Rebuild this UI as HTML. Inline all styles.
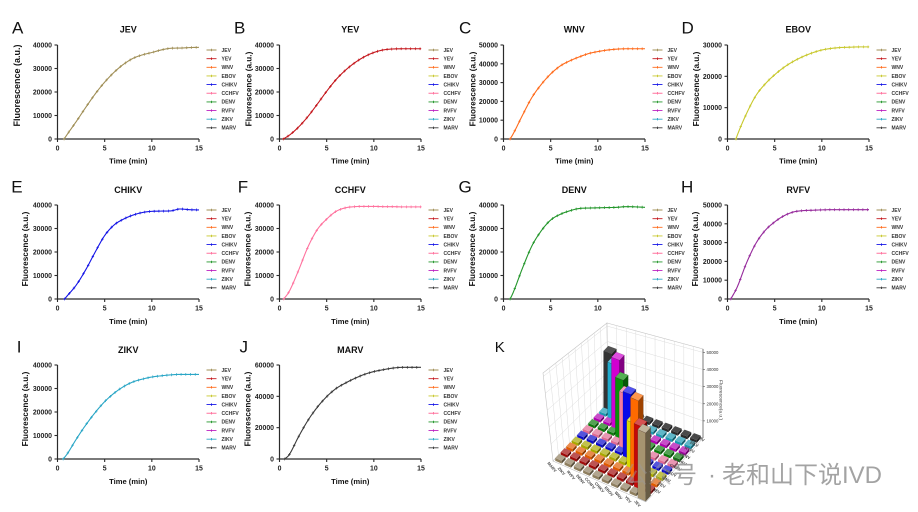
<!DOCTYPE html>
<html><head><meta charset="utf-8">
<style>
html,body{margin:0;padding:0;background:#fff;}
svg{display:block;}
text{font-family:"Liberation Sans",Arial,sans-serif;}
.tk{font-weight:bold;font-size:6.9px;fill:#222;text-anchor:end;}
.tx{font-weight:bold;font-size:6.9px;fill:#222;text-anchor:middle;}
.ti{font-weight:bold;font-size:9px;fill:#111;text-anchor:middle;}
.ax{font-weight:bold;font-size:7.6px;fill:#111;text-anchor:middle;}
.yt{font-weight:bold;font-size:8.2px;fill:#111;text-anchor:middle;}
.lg text{font-weight:bold;font-size:5px;fill:#333;}
.lt{font-size:17px;fill:#111;}
.kl{font-weight:bold;font-size:4px;fill:#444;text-anchor:middle;}
.kt{font-size:4.3px;fill:#333;}
.wm{font-family:"Liberation Sans","Noto Sans CJK SC",sans-serif;font-size:24px;fill:#9a9a9a;}
</style></head><body>
<svg id="s" width="918" height="512" viewBox="0 0 918 512" xmlns="http://www.w3.org/2000/svg">
<rect width="918" height="512" fill="#fff"/>

<!-- Letters -->
<text class="lt" x="12" y="33.3">A</text>
<text class="lt" x="234" y="33.3">B</text>
<text class="lt" x="459" y="33.3">C</text>
<text class="lt" x="681.5" y="33.3">D</text>
<text class="lt" x="11.2" y="192.5">E</text>
<text class="lt" x="237.8" y="192.5">F</text>
<text class="lt" x="458.5" y="192.5">G</text>
<text class="lt" x="681" y="192.5">H</text>
<text class="lt" x="16.8" y="352.3">I</text>
<text class="lt" x="239.5" y="352.3">J</text>
<text class="lt" x="494.8" y="352" style="font-size:15px">K</text>

<!-- Panel A -->
<g id="pA" transform="translate(57.5,45)">
<text class="ti" x="70.75" y="-12.3">JEV</text>
<text class="tk" x="-5.5" y="96.5">0</text><text class="tk" x="-5.5" y="73">10000</text><text class="tk" x="-5.5" y="49.5">20000</text><text class="tk" x="-5.5" y="26">30000</text><text class="tk" x="-5.5" y="2.5">40000</text>
<text class="tx" x="0" y="105.5">0</text><text class="tx" x="47.17" y="105.5">5</text><text class="tx" x="94.33" y="105.5">10</text><text class="tx" x="141.5" y="105.5">15</text>
<text class="ax" x="70.75" y="118.5">Time (min)</text>
<text class="yt" style="font-size:9px" transform="translate(-37.5,40.5) rotate(-90)">Fluorescence (a.u.)</text>
<g class="lg"><text x="164" y="6.8">JEV</text><text x="164" y="15.45">YEV</text><text x="164" y="24.1">WNV</text><text x="164" y="32.75">EBOV</text><text x="164" y="41.4">CHIKV</text><text x="164" y="50.05">CCHFV</text><text x="164" y="58.7">DENV</text><text x="164" y="67.35">RVFV</text><text x="164" y="76">ZIKV</text><text x="164" y="84.65">MARV</text></g>
</g>

<!-- Panel B -->
<g id="pB" transform="translate(279.5,45)">
<text class="ti" x="70.75" y="-12.3">YEV</text>
<text class="tk" x="-5.5" y="96.5">0</text><text class="tk" x="-5.5" y="73">10000</text><text class="tk" x="-5.5" y="49.5">20000</text><text class="tk" x="-5.5" y="26">30000</text><text class="tk" x="-5.5" y="2.5">40000</text>
<text class="tx" x="0" y="105.5">0</text><text class="tx" x="47.17" y="105.5">5</text><text class="tx" x="94.33" y="105.5">10</text><text class="tx" x="141.5" y="105.5">15</text>
<text class="ax" x="70.75" y="118.5">Time (min)</text>
<text class="yt" transform="translate(-28,44) rotate(-90)">Fluorescence (a.u.)</text>
<g class="lg"><text x="164" y="6.8">JEV</text><text x="164" y="15.45">YEV</text><text x="164" y="24.1">WNV</text><text x="164" y="32.75">EBOV</text><text x="164" y="41.4">CHIKV</text><text x="164" y="50.05">CCHFV</text><text x="164" y="58.7">DENV</text><text x="164" y="67.35">RVFV</text><text x="164" y="76">ZIKV</text><text x="164" y="84.65">MARV</text></g>
</g>

<!-- Panel C -->
<g id="pC" transform="translate(503.5,45)">
<text class="ti" x="70.75" y="-12.3">WNV</text>
<text class="tk" x="-5.5" y="96.5">0</text><text class="tk" x="-5.5" y="77.7">10000</text><text class="tk" x="-5.5" y="58.9">20000</text><text class="tk" x="-5.5" y="40.1">30000</text><text class="tk" x="-5.5" y="21.3">40000</text><text class="tk" x="-5.5" y="2.5">50000</text>
<text class="tx" x="0" y="105.5">0</text><text class="tx" x="47.17" y="105.5">5</text><text class="tx" x="94.33" y="105.5">10</text><text class="tx" x="141.5" y="105.5">15</text>
<text class="ax" x="70.75" y="118.5">Time (min)</text>
<text class="yt" transform="translate(-28,44) rotate(-90)">Fluorescence (a.u.)</text>
<g class="lg"><text x="164" y="6.8">JEV</text><text x="164" y="15.45">YEV</text><text x="164" y="24.1">WNV</text><text x="164" y="32.75">EBOV</text><text x="164" y="41.4">CHIKV</text><text x="164" y="50.05">CCHFV</text><text x="164" y="58.7">DENV</text><text x="164" y="67.35">RVFV</text><text x="164" y="76">ZIKV</text><text x="164" y="84.65">MARV</text></g>
</g>

<!-- Panel D -->
<g id="pD" transform="translate(727.5,45)">
<text class="ti" x="70.75" y="-12.3">EBOV</text>
<text class="tk" x="-5.5" y="96.5">0</text><text class="tk" x="-5.5" y="65.17">10000</text><text class="tk" x="-5.5" y="33.83">20000</text><text class="tk" x="-5.5" y="2.5">30000</text>
<text class="tx" x="0" y="105.5">0</text><text class="tx" x="47.17" y="105.5">5</text><text class="tx" x="94.33" y="105.5">10</text><text class="tx" x="141.5" y="105.5">15</text>
<text class="ax" x="70.75" y="118.5">Time (min)</text>
<text class="yt" transform="translate(-28.5,44) rotate(-90)">Fluorescence (a.u.)</text>
<g class="lg"><text x="164" y="6.8">JEV</text><text x="164" y="15.45">YEV</text><text x="164" y="24.1">WNV</text><text x="164" y="32.75">EBOV</text><text x="164" y="41.4">CHIKV</text><text x="164" y="50.05">CCHFV</text><text x="164" y="58.7">DENV</text><text x="164" y="67.35">RVFV</text><text x="164" y="76">ZIKV</text><text x="164" y="84.65">MARV</text></g>
</g>

<!-- Panel E -->
<g id="pE" transform="translate(57.5,205)">
<text class="ti" x="70.75" y="-12">CHIKV</text>
<text class="tk" x="-5.5" y="96.5">0</text><text class="tk" x="-5.5" y="73">10000</text><text class="tk" x="-5.5" y="49.5">20000</text><text class="tk" x="-5.5" y="26">30000</text><text class="tk" x="-5.5" y="2.5">40000</text>
<text class="tx" x="0" y="105.5">0</text><text class="tx" x="47.17" y="105.5">5</text><text class="tx" x="94.33" y="105.5">10</text><text class="tx" x="141.5" y="105.5">15</text>
<text class="ax" x="70.75" y="118.8">Time (min)</text>
<text class="yt" transform="translate(-29.5,44) rotate(-90)">Fluorescence (a.u.)</text>
<g class="lg"><text x="164" y="6.8">JEV</text><text x="164" y="15.45">YEV</text><text x="164" y="24.1">WNV</text><text x="164" y="32.75">EBOV</text><text x="164" y="41.4">CHIKV</text><text x="164" y="50.05">CCHFV</text><text x="164" y="58.7">DENV</text><text x="164" y="67.35">RVFV</text><text x="164" y="76">ZIKV</text><text x="164" y="84.65">MARV</text></g>
</g>

<!-- Panel F -->
<g id="pF" transform="translate(279.5,205)">
<text class="ti" x="70.75" y="-12">CCHFV</text>
<text class="tk" x="-5.5" y="96.5">0</text><text class="tk" x="-5.5" y="73">10000</text><text class="tk" x="-5.5" y="49.5">20000</text><text class="tk" x="-5.5" y="26">30000</text><text class="tk" x="-5.5" y="2.5">40000</text>
<text class="tx" x="0" y="105.5">0</text><text class="tx" x="47.17" y="105.5">5</text><text class="tx" x="94.33" y="105.5">10</text><text class="tx" x="141.5" y="105.5">15</text>
<text class="ax" x="70.75" y="118.8">Time (min)</text>
<text class="yt" transform="translate(-29,44) rotate(-90)">Fluorescence (a.u.)</text>
<g class="lg"><text x="164" y="6.8">JEV</text><text x="164" y="15.45">YEV</text><text x="164" y="24.1">WNV</text><text x="164" y="32.75">EBOV</text><text x="164" y="41.4">CHIKV</text><text x="164" y="50.05">CCHFV</text><text x="164" y="58.7">DENV</text><text x="164" y="67.35">RVFV</text><text x="164" y="76">ZIKV</text><text x="164" y="84.65">MARV</text></g>
</g>

<!-- Panel G -->
<g id="pG" transform="translate(503.5,205)">
<text class="ti" x="70.75" y="-12">DENV</text>
<text class="tk" x="-5.5" y="96.5">0</text><text class="tk" x="-5.5" y="73">10000</text><text class="tk" x="-5.5" y="49.5">20000</text><text class="tk" x="-5.5" y="26">30000</text><text class="tk" x="-5.5" y="2.5">40000</text>
<text class="tx" x="0" y="105.5">0</text><text class="tx" x="47.17" y="105.5">5</text><text class="tx" x="94.33" y="105.5">10</text><text class="tx" x="141.5" y="105.5">15</text>
<text class="yt" transform="translate(-28.5,44) rotate(-90)">Fluorescence (a.u.)</text>
<g class="lg"><text x="164" y="6.8">JEV</text><text x="164" y="15.45">YEV</text><text x="164" y="24.1">WNV</text><text x="164" y="32.75">EBOV</text><text x="164" y="41.4">CHIKV</text><text x="164" y="50.05">CCHFV</text><text x="164" y="58.7">DENV</text><text x="164" y="67.35">RVFV</text><text x="164" y="76">ZIKV</text><text x="164" y="84.65">MARV</text></g>
</g>

<!-- Panel H -->
<g id="pH" transform="translate(727.5,205)">
<text class="ti" x="70.75" y="-12">RVFV</text>
<text class="tk" x="-5.5" y="96.5">0</text><text class="tk" x="-5.5" y="77.7">10000</text><text class="tk" x="-5.5" y="58.9">20000</text><text class="tk" x="-5.5" y="40.1">30000</text><text class="tk" x="-5.5" y="21.3">40000</text><text class="tk" x="-5.5" y="2.5">50000</text>
<text class="tx" x="0" y="105.5">0</text><text class="tx" x="47.17" y="105.5">5</text><text class="tx" x="94.33" y="105.5">10</text><text class="tx" x="141.5" y="105.5">15</text>
<text class="ax" x="70.75" y="118.8">Time (min)</text>
<text class="yt" transform="translate(-29.5,44) rotate(-90)">Fluorescence (a.u.)</text>
<g class="lg"><text x="164" y="6.8">JEV</text><text x="164" y="15.45">YEV</text><text x="164" y="24.1">WNV</text><text x="164" y="32.75">EBOV</text><text x="164" y="41.4">CHIKV</text><text x="164" y="50.05">CCHFV</text><text x="164" y="58.7">DENV</text><text x="164" y="67.35">RVFV</text><text x="164" y="76">ZIKV</text><text x="164" y="84.65">MARV</text></g>
</g>

<!-- Panel I -->
<g id="pI" transform="translate(57.5,365)">
<text class="ti" x="70.75" y="-12">ZIKV</text>
<text class="tk" x="-5.5" y="96.5">0</text><text class="tk" x="-5.5" y="73">10000</text><text class="tk" x="-5.5" y="49.5">20000</text><text class="tk" x="-5.5" y="26">30000</text><text class="tk" x="-5.5" y="2.5">40000</text>
<text class="tx" x="0" y="105.5">0</text><text class="tx" x="47.17" y="105.5">5</text><text class="tx" x="94.33" y="105.5">10</text><text class="tx" x="141.5" y="105.5">15</text>
<text class="ax" x="70.75" y="119">Time (min)</text>
<text class="yt" transform="translate(-29.5,44) rotate(-90)">Fluorescence (a.u.)</text>
<g class="lg"><text x="164" y="6.8">JEV</text><text x="164" y="15.45">YEV</text><text x="164" y="24.1">WNV</text><text x="164" y="32.75">EBOV</text><text x="164" y="41.4">CHIKV</text><text x="164" y="50.05">CCHFV</text><text x="164" y="58.7">DENV</text><text x="164" y="67.35">RVFV</text><text x="164" y="76">ZIKV</text><text x="164" y="84.65">MARV</text></g>
</g>

<!-- Panel J -->
<g id="pJ" transform="translate(279.5,365)">
<text class="ti" x="70.75" y="-12">MARV</text>
<text class="tk" x="-5.5" y="96.5">0</text><text class="tk" x="-5.5" y="65.17">20000</text><text class="tk" x="-5.5" y="33.83">40000</text><text class="tk" x="-5.5" y="2.5">60000</text>
<text class="tx" x="0" y="105.5">0</text><text class="tx" x="47.17" y="105.5">5</text><text class="tx" x="94.33" y="105.5">10</text><text class="tx" x="141.5" y="105.5">15</text>
<text class="ax" x="70.75" y="119">Time (min)</text>
<text class="yt" transform="translate(-29,44) rotate(-90)">Fluorescence (a.u.)</text>
<g class="lg"><text x="164" y="6.8">JEV</text><text x="164" y="15.45">YEV</text><text x="164" y="24.1">WNV</text><text x="164" y="32.75">EBOV</text><text x="164" y="41.4">CHIKV</text><text x="164" y="50.05">CCHFV</text><text x="164" y="58.7">DENV</text><text x="164" y="67.35">RVFV</text><text x="164" y="76">ZIKV</text><text x="164" y="84.65">MARV</text></g>
</g>

<!-- Panel K (3D bars) -->
<g id="k"></g>
<g>
<text class="kl" transform="translate(552,467) rotate(50)" y="1.4">MARV</text>
<text class="kl" transform="translate(561.5,471.1) rotate(50)" y="1.4">ZIKV</text>
<text class="kl" transform="translate(571,475.1) rotate(50)" y="1.4">RVFV</text>
<text class="kl" transform="translate(580.5,479.2) rotate(50)" y="1.4">DENV</text>
<text class="kl" transform="translate(590,483.2) rotate(50)" y="1.4">CCHFV</text>
<text class="kl" transform="translate(599.5,487.3) rotate(50)" y="1.4">CHIKV</text>
<text class="kl" transform="translate(609,491.3) rotate(50)" y="1.4">EBOV</text>
<text class="kl" transform="translate(618.5,495.4) rotate(50)" y="1.4">WNV</text>
<text class="kl" transform="translate(628,499.4) rotate(50)" y="1.4">YEV</text>
<text class="kl" transform="translate(637.5,503.5) rotate(50)" y="1.4">JEV</text>

<text class="kl" transform="translate(657,491) rotate(25)" y="1.4">JEV</text>
<text class="kl" transform="translate(661.7,485.1) rotate(25)" y="1.4">YEV</text>
<text class="kl" transform="translate(666.3,479.2) rotate(25)" y="1.4">WNV</text>
<text class="kl" transform="translate(671,473.3) rotate(25)" y="1.4">EBOV</text>
<text class="kl" transform="translate(675.7,467.4) rotate(25)" y="1.4">CHIKV</text>
<text class="kl" transform="translate(680.3,461.6) rotate(25)" y="1.4">CCHFV</text>
<text class="kl" transform="translate(685,455.7) rotate(25)" y="1.4">DENV</text>
<text class="kl" transform="translate(689.7,449.8) rotate(25)" y="1.4">RVFV</text>
<text class="kl" transform="translate(694.3,443.9) rotate(25)" y="1.4">ZIKV</text>
<text class="kl" transform="translate(699,438) rotate(25)" y="1.4">MARV</text>

<text class="kt" x="706.5" y="422.4">10000</text>
<text class="kt" x="706.5" y="405.3">20000</text>
<text class="kt" x="706.5" y="388.2">30000</text>
<text class="kt" x="706.5" y="371.1">40000</text>
<text class="kt" x="706.5" y="354">50000</text>
<text class="kt" style="font-size:4.8px;text-anchor:middle" transform="translate(719.5,400) rotate(90)">Fluorescence(a.u.)</text>
</g>

<!-- Watermark -->
<g>
<text class="wm" x="624" y="483" opacity="0.45">公众</text>
<text class="wm" x="673" y="483" opacity="0.9">号</text>
<text class="wm" x="712" y="483" text-anchor="middle" opacity="0.9">·</text>
<text class="wm" x="722" y="483" opacity="0.9">老和山下说IVD</text>
</g>
</svg>

<script>
(function(){
const NS='http://www.w3.org/2000/svg';
function add(p,t,a){const e=document.createElementNS(NS,t);for(const k in a)e.setAttribute(k,a[k]);p.appendChild(e);return e;}
function mono(xs,ys){
 const n=xs.length,d=[],m=new Array(n);
 for(let i=0;i<n-1;i++)d.push((ys[i+1]-ys[i])/(xs[i+1]-xs[i]));
 m[0]=d[0];m[n-1]=d[n-2];
 for(let i=1;i<n-1;i++)m[i]=(d[i-1]*d[i]<=0)?0:(d[i-1]+d[i])/2;
 for(let i=0;i<n-1;i++){
  if(d[i]===0){m[i]=0;m[i+1]=0;continue;}
  const a=m[i]/d[i],b=m[i+1]/d[i],s=a*a+b*b;
  if(s>9){const t=3/Math.sqrt(s);m[i]=t*a*d[i];m[i+1]=t*b*d[i];}
 }
 return x=>{let i=0;while(i<n-2&&x>xs[i+1])i++;const h=xs[i+1]-xs[i],t=(x-xs[i])/h,t2=t*t,t3=t2*t;
  return (2*t3-3*t2+1)*ys[i]+(t3-2*t2+t)*h*m[i]+(-2*t3+3*t2)*ys[i+1]+(t3-t2)*h*m[i+1];};
}
const lineC=['#A08F57','#C4161C','#FF6A1A','#C8C82C','#1414E6','#FF729E','#23962B','#962A9C','#2AA6C6','#3A3A3A'];
const legC=['#A08F57','#C4161C','#FF6A1A','#C8C82C','#1414E6','#FF729E','#23962B','#BC1FC0','#2AA6C6','#3A3A3A'];
const W=141.5,H=94;
const panels=[
 {id:'pA',max:40000,n:4,ci:0,t0:0.7,d:[1800,7500,13500,19200,24200,28400,31800,34300,35800,36800,37900,38600,38700,38900,39000]},
 {id:'pB',max:40000,n:4,ci:1,t0:0.4,d:[1500,5000,9500,14800,20300,25300,29300,32500,35000,36800,37900,38300,38400,38400,38400]},
 {id:'pC',max:50000,n:5,ci:2,t0:0.7,d:[2500,12500,22000,29000,34600,38800,41500,43600,45400,46500,47300,47800,48000,48000,48000]},
 {id:'pD',max:30000,n:3,ci:3,t0:0.9,d:[900,8000,13800,17600,20500,22900,24800,26300,27500,28400,28900,29200,29300,29400,29400]},
 {id:'pE',max:40000,n:4,ci:4,t0:0.75,d:[1200,6000,12500,20000,27000,31500,34000,35700,36800,37300,37400,37500,38300,38000,37900]},
 {id:'pF',max:40000,n:4,ci:5,t0:0.45,d:[3000,12000,22000,29500,34000,37300,38800,39300,39400,39400,39300,39300,39200,39200,39200]},
 {id:'pG',max:40000,n:4,ci:6,t0:0.7,d:[2500,13000,22500,29000,33600,36000,37500,38500,38700,38800,38900,39000,39300,39200,39000]},
 {id:'pH',max:50000,n:5,ci:7,t0:0.35,d:[6000,19000,29500,36500,41000,44300,46300,47000,47200,47400,47500,47500,47500,47500,47500]},
 {id:'pI',max:40000,n:4,ci:8,t0:0.6,d:[2000,8500,14500,19800,24400,28000,30800,32800,34000,34900,35400,35800,36000,36000,36000]},
 {id:'pJ',max:60000,n:3,ci:9,t0:0.55,d:[2500,14000,24500,33000,39800,45000,48500,51500,54000,55800,57000,58000,58500,58500,58500]}
];
panels.forEach(p=>{
 const g=document.getElementById(p.id);
 add(g,'path',{d:'M0,0V94H141.5',fill:'none',stroke:'#2b2b2b','stroke-width':1.2});
 for(let k=0;k<=p.n;k++){const y=94-k*94/p.n;add(g,'line',{x1:-3,x2:0,y1:y,y2:y,stroke:'#2b2b2b','stroke-width':1.1});}
 [0,5,10,15].forEach(t=>{const x=t*W/15;add(g,'line',{x1:x,x2:x,y1:94,y2:97,stroke:'#2b2b2b','stroke-width':1.1});});
 const xs=[p.t0],ys=[0];for(let i=0;i<15;i++){xs.push(i+1);ys.push(p.d[i]);}
 const f=mono(xs,ys);const col=lineC[p.ci];
 const pts=[];for(let t=p.t0;t<=15.0001;t+=0.1){pts.push((t*W/15).toFixed(2)+','+(94-f(t)/p.max*94).toFixed(2));}
 pts.push((W).toFixed(2)+','+(94-f(15)/p.max*94).toFixed(2));
 add(g,'polyline',{points:pts.join(' '),fill:'none',stroke:col,'stroke-width':1.1,'stroke-linejoin':'round'});
 let mk='';
 for(let t=p.t0;t<=15.0001;t+=0.5){const x=t*W/15,y=94-f(t)/p.max*94;mk+=`M${x.toFixed(2)},${(y-1.4).toFixed(2)}v2.8M${(x-1.2).toFixed(2)},${y.toFixed(2)}h2.4`;}
 add(g,'path',{d:mk,stroke:col,'stroke-width':0.7,fill:'none'});
 for(let i=0;i<10;i++){const y=5+8.65*i;
  add(g,'path',{d:`M149,${y}H159M154,${y-1.2}v2.4`,stroke:legC[i],'stroke-width':0.9,fill:'none'});}
});

/* ---- Panel K ---- */
const g=document.getElementById('k');
const L=[553,461],F=[646,502],R=[703,438],B=[608,403],AP=[607,323],LT=[543,373],RT=[703,349];
const lerp=(a,b,t)=>[a[0]+(b[0]-a[0])*t,a[1]+(b[1]-a[1])*t];
const P=(u,v)=>[(1-u)*(1-v)*L[0]+u*(1-v)*F[0]+(1-u)*v*B[0]+u*v*R[0],(1-u)*(1-v)*L[1]+u*(1-v)*F[1]+(1-u)*v*B[1]+u*v*R[1]];
const ps=a=>a.map(p=>p[0].toFixed(2)+','+p[1].toFixed(2)).join(' ');
const ln=(a,b,c,w)=>add(g,'line',{x1:a[0],y1:a[1],x2:b[0],y2:b[1],stroke:c,'stroke-width':w});
add(g,'polygon',{points:ps([L,B,AP,LT]),fill:'#fff',stroke:'#c4c4c4','stroke-width':0.6});
add(g,'polygon',{points:ps([B,R,RT,AP]),fill:'#fff',stroke:'#c4c4c4','stroke-width':0.6});
for(let k=1;k<10;k++){ln(P(0,k/10),lerp(LT,AP,k/10),'#dcdcdc',0.5);ln(P(k/10,1),lerp(AP,RT,k/10),'#dcdcdc',0.5);}
for(let j=1;j<=5;j++){const f=j/5.2;ln(lerp(L,LT,f),lerp(B,AP,f),'#dcdcdc',0.5);ln(lerp(B,AP,f),lerp(R,RT,f),'#dcdcdc',0.5);}
add(g,'polygon',{points:ps([L,F,R,B]),fill:'#fff',stroke:'#b0b0b0','stroke-width':0.5});
ln(R,RT,'#555',0.7);
for(let j=1;j<=5;j++){const p=lerp(R,RT,j/5.2);ln(p,[p[0]+2,p[1]],'#555',0.6);}
function hex(c){return [parseInt(c.substr(1,2),16),parseInt(c.substr(3,2),16),parseInt(c.substr(5,2),16)];}
function sh(c,k){const r=hex(c);return 'rgb('+r.map(x=>Math.round(x*k)).join(',')+')';}
function lt(c,k){const r=hex(c);return 'rgb('+r.map(x=>Math.round(x+(255-x)*k)).join(',')+')';}
const rowC=['#8F7F5F','#A00A0A','#E05A00','#A8A800','#0A0ACC','#E06A92','#0A7A0A','#B000B0','#1C98B0','#2A2A2A'];
const barC=['#A69470','#C40808','#FF6A00','#D8D800','#0808E8','#F27AA0','#0A900A','#D000D0','#20AACC','#333333'];
const tops=[424,418,392,415,386,386,372,352,357,346];
const items=[];
for(let r=0;r<10;r++)for(let c=0;c<10;c++){
 const u=(c+.5)/10,v=(r+.5)/10,diag=(c+r===9);
 const s=diag?0.043:0.035;
 const a=P(u-s,v-s),b=P(u+s,v-s),cc=P(u+s,v+s),d=P(u-s,v+s);
 const h=diag?(d[1]-tops[r]):2.8;
 items.push({key:v-u,a,b,c:cc,d,h,col:diag?barC[r]:rowC[r],diag});
}
items.sort((x,y)=>y.key-x.key);
items.forEach(it=>{
 const up=p=>[p[0],p[1]-it.h];
 const A=up(it.a),Bq=up(it.b),C=up(it.c),D=up(it.d);
 const st=it.diag?'rgba(0,0,0,0.35)':'none';
 add(g,'polygon',{points:ps([it.a,it.b,Bq,A]),fill:it.col,stroke:st,'stroke-width':0.35});
 add(g,'polygon',{points:ps([it.b,it.c,C,Bq]),fill:sh(it.col,0.62),stroke:st,'stroke-width':0.35});
 add(g,'polygon',{points:ps([A,Bq,C,D]),fill:lt(it.col,it.col==='#333333'||it.col==='#2A2A2A'?0.15:0.3),stroke:st,'stroke-width':0.35});
});
})();
</script>
</body></html>
